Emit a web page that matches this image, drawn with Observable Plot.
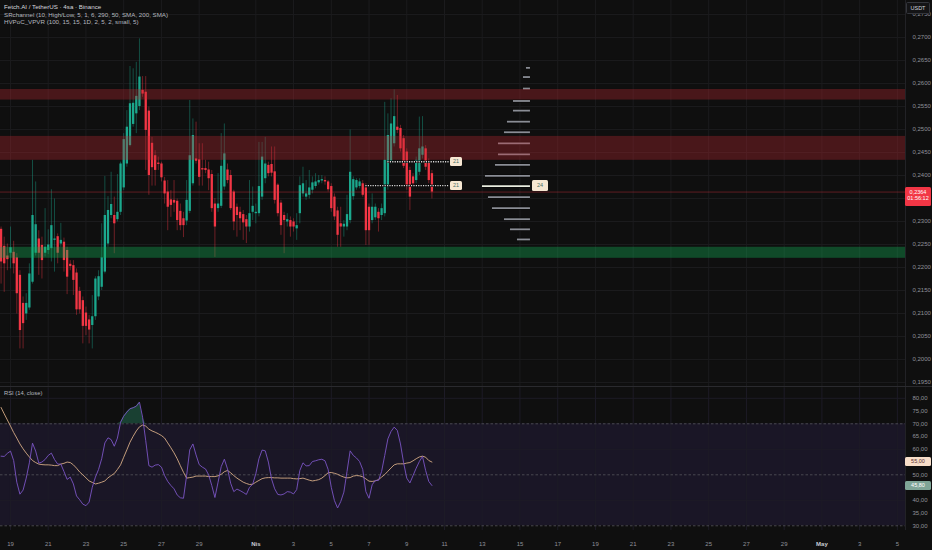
<!DOCTYPE html>
<html><head><meta charset="utf-8">
<script src="https://cdn.jsdelivr.net/npm/d3@7"></script>
<script src="https://cdn.jsdelivr.net/npm/@observablehq/plot@0.6"></script>
<style>
html,body{margin:0;padding:0;background:#0f0f0f;}
#wrap{position:relative;width:932px;height:550px;overflow:hidden;background:#0f0f0f;font-family:"Liberation Sans",Arial,sans-serif;}
#wrap svg{position:absolute;left:0;background:transparent;overflow:visible;}
.t{position:absolute;white-space:nowrap;font-size:6.2px;line-height:7px;}
.box{position:absolute;border-radius:1.5px;font-size:5.5px;line-height:6px;text-align:center;}
</style></head>
<body><div id="wrap"></div>
<script>
// ---------- data ----------
const firstBar = "2019-03-18T12:00Z";
const barHours = 4;
const open  = [.2283,.2246,.2225,.2231,.2233,.2221,.2183,.2122,.2099,.2112,.2168,.2231,.2262,.2248,.2231,.2237,.2241,.2259,.2267,.2251,.2255,.2237,.2207,.2204,.2188,.2148,.2128,.2101,.2086,.2074,.2093,.2136,.2157,.2190,.2251,.2313,.2313,.2304,.2320,.2373,.2425,.2465,.2511,.2534,.2550,.2585,.2581,.2540,.2470,.2443,.2427,.2425,.2388,.2364,.2347,.2346,.2344,.2322,.2306,.2301,.2322,.2382,.2436,.2434,.2415,.2415,.2412,.2402,.2338,.2328,.2333,.2375,.2412,.2400,.2364,.2331,.2320,.2315,.2304,.2288,.2320,.2317,.2317,.2353,.2393,.2422,.2424,.2408,.2379,.2340,.2313,.2299,.2302,.2299,.2284,.2317,.2360,.2353,.2357,.2368,.2376,.2384,.2388,.2389,.2386,.2376,.2353,.2323,.2295,.2288,.2288,.2302,.2354,.2373,.2376,.2382,.2373,.2331,.2302,.2308,.2320,.2313,.2317,.2375,.2431,.2469,.2505,.2502,.2480,.2451,.2411,.2397,.2389,.2407,.2444,.2458,.2429,.2404];
const high  = [.2288,.2266,.2251,.2288,.2257,.2230,.2193,.2136,.2143,.2208,.2433,.2386,.2280,.2266,.2328,.2282,.2369,.2349,.2273,.2296,.2264,.2244,.2215,.2215,.2197,.2157,.2136,.2114,.2096,.2139,.2180,.2193,.2295,.2398,.2354,.2407,.2353,.2402,.2429,.2491,.2541,.2637,.2632,.2646,.2697,.2615,.2615,.2549,.2483,.2454,.2440,.2429,.2396,.2389,.2367,.2389,.2349,.2338,.2320,.2389,.2563,.2523,.2516,.2469,.2469,.2433,.2429,.2411,.2350,.2404,.2491,.2512,.2425,.2411,.2368,.2338,.2331,.2324,.2313,.2389,.2375,.2338,.2472,.2472,.2483,.2429,.2462,.2462,.2382,.2346,.2320,.2317,.2310,.2306,.2317,.2397,.2418,.2389,.2411,.2397,.2404,.2400,.2400,.2397,.2389,.2382,.2360,.2331,.2331,.2302,.2357,.2499,.2397,.2393,.2393,.2389,.2382,.2338,.2360,.2338,.2328,.2338,.2559,.2534,.2567,.2586,.2574,.2509,.2487,.2458,.2418,.2404,.2440,.2527,.2528,.2465,.2436,.2411];
const low   = [.2164,.2146,.2193,.2197,.2186,.2099,.2023,.2023,.2085,.2107,.2164,.2225,.2183,.2175,.2223,.2228,.2212,.2190,.2208,.2244,.2190,.2141,.2193,.2139,.2096,.2099,.2034,.2052,.2034,.2023,.2085,.2128,.2150,.2186,.2244,.2306,.2230,.2299,.2313,.2367,.2418,.2462,.2505,.2491,.2541,.2570,.2411,.2357,.2377,.2377,.2411,.2386,.2338,.2280,.2309,.2320,.2280,.2280,.2265,.2291,.2317,.2377,.2425,.2377,.2377,.2404,.2367,.2320,.2222,.2320,.2328,.2368,.2382,.2324,.2280,.2266,.2280,.2259,.2252,.2277,.2302,.2295,.2310,.2346,.2382,.2397,.2397,.2338,.2310,.2270,.2230,.2288,.2266,.2277,.2259,.2295,.2353,.2346,.2349,.2360,.2371,.2379,.2382,.2379,.2364,.2320,.2302,.2244,.2244,.2266,.2280,.2295,.2346,.2368,.2371,.2353,.2248,.2248,.2295,.2302,.2277,.2302,.2310,.2368,.2425,.2462,.2491,.2451,.2415,.2368,.2324,.2375,.2382,.2400,.2436,.2411,.2382,.2349];
const close = [.2212,.2208,.2217,.2243,.2208,.2143,.2063,.2078,.2122,.2186,.2313,.2293,.2231,.2215,.2244,.2249,.2291,.2262,.2231,.2259,.2215,.2179,.2202,.2172,.2108,.2108,.2072,.2072,.2064,.2093,.2175,.2180,.2221,.2313,.2324,.2337,.2295,.2320,.2425,.2478,.2505,.2556,.2557,.2572,.2614,.2577,.2498,.2400,.2417,.2411,.2424,.2395,.2360,.2331,.2335,.2340,.2302,.2291,.2291,.2346,.2443,.2487,.2431,.2396,.2412,.2411,.2393,.2328,.2288,.2338,.2420,.2447,.2389,.2328,.2299,.2313,.2306,.2297,.2288,.2317,.2333,.2320,.2376,.2440,.2425,.2404,.2405,.2346,.2317,.2291,.2302,.2304,.2288,.2288,.2291,.2378,.2382,.2360,.2373,.2384,.2386,.2389,.2391,.2386,.2369,.2328,.2310,.2270,.2288,.2294,.2315,.2407,.2391,.2389,.2386,.2357,.2280,.2280,.2331,.2331,.2306,.2328,.2433,.2487,.2512,.2528,.2498,.2458,.2420,.2375,.2353,.2382,.2433,.2458,.2462,.2418,.2389,.2364];
const rsi   = [57.3,57.2,58.4,59.3,55.6,47.1,42.4,44.0,48.7,54.7,62.4,59.3,54.6,55.0,56.0,57.6,58.5,56.0,54.2,54.2,51.3,48.2,49.1,46.4,41.7,40.2,38.5,37.9,39.3,45.1,49.1,52.1,56.3,62.5,64.5,63.8,61.2,64.4,70.6,73.0,74.6,75.9,76.3,76.9,78.5,72.6,63.4,53.6,53.0,53.8,54.0,53.0,49.7,47.4,45.8,44.5,42.1,41.0,40.8,49.7,59.8,62.1,57.8,54.0,53.0,52.3,50.0,45.8,41.1,47.1,53.2,56.1,52.3,46.7,43.4,44.4,43.8,43.1,42.3,45.1,46.3,50.4,56.3,59.7,59.4,55.0,48.4,44.5,42.3,42.1,42.5,43.4,43.2,42.5,44.2,51.7,54.7,53.5,53.6,55.2,55.5,55.9,56.1,55.5,52.1,45.1,39.9,37.0,39.5,43.2,51.3,59.4,57.6,56.6,55.2,52.1,43.4,40.8,46.1,47.8,47.8,51.3,57.6,64.1,67.0,68.7,67.4,62.1,54.7,48.7,46.8,49.7,52.6,55.2,57.2,51.7,47.4,45.8];
const rsiMA = [76.4,73.9,71.5,69.1,66.6,64.4,62.1,60.2,58.5,57.0,55.6,54.8,54.2,54.0,53.9,53.9,53.8,53.6,53.6,54.2,54.5,55.0,54.8,53.9,52.6,51.1,50.0,48.8,47.6,47.0,46.4,46.7,47.1,47.6,48.8,49.7,50.5,52.1,53.9,56.9,59.8,62.8,65.1,67.2,68.8,69.5,69.1,67.9,67.2,66.7,66.1,65.4,64.4,62.5,60.6,58.6,56.3,53.6,51.0,48.7,48.9,49.1,49.5,49.5,49.5,49.5,49.3,49.3,49.3,49.6,50.2,51.2,51.7,50.8,49.7,48.7,47.9,47.1,46.6,46.2,46.3,47.1,47.8,48.5,48.8,48.9,48.9,48.8,48.8,48.7,48.7,48.7,48.7,48.5,48.4,48.5,48.7,48.3,47.9,47.6,47.8,48.1,48.7,49.7,50.8,50.9,50.6,50.2,49.6,49.1,48.8,48.9,49.5,49.7,49.6,49.2,48.4,47.5,47.4,47.6,48.1,49.1,50.1,51.4,52.7,53.9,54.3,54.3,54.3,54.6,54.8,55.5,56.3,57.0,57.3,56.9,55.6,55.0];

const priceTicks = [0.195,0.200,0.205,0.210,0.215,0.220,0.225,0.230,0.235,0.240,0.245,0.250,0.255,0.260,0.265,0.270,0.275];
const rsiTicks = [30,35,40,45,50,55,60,65,70,75,80];
const rsiLevels = [30,50,70];
const dateTicks = ["2019-03-19","2019-03-21","2019-03-23","2019-03-25","2019-03-27","2019-03-29","2019-04-01","2019-04-03","2019-04-05","2019-04-07","2019-04-09","2019-04-11","2019-04-13","2019-04-15","2019-04-17","2019-04-19","2019-04-21","2019-04-23","2019-04-25","2019-04-27","2019-04-29","2019-05-01","2019-05-03","2019-05-05"];
const monthNames = {3:"Nis",4:"May"};

// support / resistance zones (SRchannel)
const zoneTop    = [0.2587, 0.2485, 0.2244];
const zoneBottom = [0.2564, 0.2433, 0.2220];
const zoneKind   = ["res", "res", "sup"];

// volume profile (HVPoC_VPVR)
const vpPrice  = [0.2634,0.2614,0.2589,0.2562,0.2541,0.2517,0.2494,0.2470,0.2446,0.2423,0.2399,0.2377,0.2353,0.2329,0.2305,0.2283,0.2261];
const vpVolume = [4,7,7,17,17,23,26,32,32,35,45,48,42,38,26,20,13];
const vpAnchor = "2019-04-15T13:20Z";
const pocLabel = "24";

// developing POC lines
const devPrice = [0.2430, 0.2378];
const devStartBar = [123, 116];
const devEnd = "2019-04-11T06:20Z";
const devLabel = ["21", "21"];

const countdown = "01:56:12";

// ---------- build ----------
const H = 3600e3;
const t0 = new Date(firstBar).getTime();
const candles = close.map((c, i) => ({t: new Date(t0 + i*barHours*H), o: open[i], h: high[i], l: low[i], c, up: c >= open[i], rsi: rsi[i], ma: rsiMA[i]}));
const xDomain = [new Date("2019-03-18T11:17Z"), new Date("2019-05-05T10:20Z")];
const yDomain = [0.1937, 0.27804];
const rDomain = [28.16, 83.84];
const ticks = dateTicks.map(d => new Date(d + "T00:00Z"));
const regTicks = ticks.filter(d => d.getUTCDate() !== 1);
const monTicks = ticks.filter(d => d.getUTCDate() === 1);
const UP = "#1ba88d", DN = "#f23645";
const GRID = "#1b1b1d";
const zones = zoneTop.map((t, i) => ({top: t, bottom: zoneBottom[i], kind: zoneKind[i]}));
const anchorT = new Date(vpAnchor).getTime();
const pxHours = 24/18.87; // one volume unit ~ one pixel of time
const maxVol = Math.max(...vpVolume);
const vp = vpPrice.map((p, i) => ({p, v: vpVolume[i], poc: vpVolume[i] === maxVol}));
const devs = devPrice.map((p, i) => ({p, t1: candles[devStartBar[i]].t, t2: new Date(devEnd), label: devLabel[i]}));
const fmtP = d => d.toFixed(4).replace(".", ",");
const fmtR = d => d.toFixed(2).replace(".", ",");
const FONT = "Liberation Sans, Arial, sans-serif";
const last = close[close.length-1];
const lastMA = rsiMA[rsiMA.length-1], lastR = rsi[rsi.length-1];

// hide axis labels that sit under the value boxes (as in the platform)
const pxPerPrice = 388 / (yDomain[1] - yDomain[0]);
const visPriceTicks = priceTicks.filter(p => { const dy = (last - p) * pxPerPrice; return dy < -6 || dy > 17; });
const pxPerRsi = 142 / (rDomain[1] - rDomain[0]);
const visRsiTicks = rsiTicks.filter(v => Math.abs(v - lastMA) * pxPerRsi > 7 && Math.abs(v - lastR) * pxPerRsi > 7);

const main = Plot.plot({
  width: 932, height: 388,
  marginLeft: 0, marginRight: 27, marginTop: 0, marginBottom: 0,
  style: {background: "transparent", fontFamily: FONT},
  x: {type: "utc", domain: xDomain, axis: null},
  y: {domain: yDomain, axis: null},
  marks: [
    Plot.ruleX(ticks, {stroke: GRID, strokeWidth: 1}),
    Plot.ruleY(priceTicks, {stroke: GRID, strokeWidth: 1}),
    Plot.ruleY(vp, {y: "p", x1: d => new Date(anchorT - d.v*pxHours*H), x2: () => new Date(anchorT), stroke: "#0a0a0a", strokeWidth: 3.2}),
    Plot.ruleY(vp, {y: "p", x1: d => new Date(anchorT - d.v*pxHours*H), x2: () => new Date(anchorT), stroke: d => d.poc ? "#e9ecdf" : "#8a8d95", strokeWidth: 1.8}),
    Plot.ruleX(candles, {x: "t", y1: "l", y2: "h", stroke: d => d.up ? UP : DN, strokeOpacity: 0.42, strokeWidth: 1}),
    Plot.ruleX(candles, {x: "t", y1: "o", y2: "c", stroke: d => d.up ? UP : DN, strokeWidth: 2.3}),
    Plot.rect(zones, {x1: () => xDomain[0], x2: () => xDomain[1], y1: "bottom", y2: "top", fill: d => d.kind === "sup" ? "#14b45a" : "#be2830", fillOpacity: d => d.kind === "sup" ? 0.36 : 0.33}),
    Plot.ruleY([last], {stroke: DN, strokeOpacity: 0.35, strokeWidth: 1}),
    Plot.ruleY(devs, {y: "p", x1: "t1", x2: "t2", stroke: "#0a0a0a", strokeWidth: 2.4}),
    Plot.ruleY(devs, {y: "p", x1: "t1", x2: "t2", stroke: "#d9d9d9", strokeWidth: 1.4, strokeDasharray: "1.2,1.2"}),
    Plot.ruleX([xDomain[1]], {stroke: "#222226"}),
    Plot.axisY({anchor: "right", ticks: visPriceTicks, tickSize: 0, tickPadding: 7, tickFormat: fmtP, fill: "#8f929a", fontSize: 6, label: null})
  ]
});
main.style.top = "0px";

const rsiPlot = Plot.plot({
  width: 932, height: 162,
  marginLeft: 0, marginRight: 27, marginTop: 0, marginBottom: 20,
  style: {background: "transparent", fontFamily: FONT},
  x: {type: "utc", domain: xDomain, axis: null},
  y: {domain: rDomain, axis: null},
  marks: [
    Plot.rect([rsiLevels], {x1: () => xDomain[0], x2: () => xDomain[1], y1: d => d[0], y2: d => d[2], fill: "#1a1626"}),
    Plot.ruleX(ticks, {stroke: "#1d1b26", strokeWidth: 1}),
    Plot.ruleY(rsiTicks.filter(v => v % 10 === 0 && !rsiLevels.includes(v)), {stroke: "#1d1b26"}),
    Plot.ruleY(rsiLevels, {stroke: "#55545c", strokeDasharray: "2.5,2", strokeWidth: 0.8}),
    Plot.areaY(candles, {x: "t", y1: () => rsiLevels[2], y2: d => Math.max(d.rsi, rsiLevels[2]), fill: "#1b4636", fillOpacity: 0.9}),
    Plot.line(candles, {x: "t", y: "ma", stroke: "#d6ac86", strokeWidth: 0.9}),
    Plot.line(candles, {x: "t", y: "rsi", stroke: "#7a55c4", strokeWidth: 0.9}),
    Plot.ruleX([xDomain[1]], {stroke: "#222226", y1: rDomain[0], y2: rDomain[1]}),
    Plot.axisY({anchor: "right", ticks: visRsiTicks, tickSize: 0, tickPadding: 7, tickFormat: fmtR, fill: "#8f929a", fontSize: 6, label: null}),
    Plot.axisX({ticks: regTicks, tickSize: 0, tickPadding: 11, tickFormat: d => String(d.getUTCDate()), fill: "#8f929a", fontSize: 6, label: null}),
    Plot.axisX({ticks: monTicks, tickSize: 0, tickPadding: 11, tickFormat: d => monthNames[d.getUTCMonth()], fill: "#c9ccd4", fontSize: 6, fontWeight: "bold", label: null})
  ]
});
rsiPlot.style.top = "388px";

const wrap = document.getElementById("wrap");
wrap.appendChild(main);
wrap.appendChild(rsiPlot);

// separator between panes
const sep = document.createElement("div");
sep.style.cssText = "position:absolute;left:0;top:386px;width:932px;height:1px;background:#2a2a2e;";
wrap.appendChild(sep);

function addText(txt, css, cls = "t") {
  const d = document.createElement("div");
  d.className = cls; d.textContent = txt; d.style.cssText += css;
  wrap.appendChild(d); return d;
}
// header
addText("Fetch.AI / TetherUS · 4sa · Binance", "left:4px;top:3px;color:#d7d9de;");
addText("SRchannel (10, High/Low, 5, 1, 6, 290, 50, SMA, 200, SMA)", "left:4px;top:10.5px;color:#b4b7bf;");
addText("HVPoC_VPVR (100, 15, 15, 1D, 2, 5, 2, small, 5)", "left:4px;top:18px;color:#b4b7bf;");
addText("RSI (14, close)", "left:4px;top:389.5px;color:#b4b7bf;font-size:5.8px;");
// USDT box
addText("USDT", "left:906px;top:2px;width:22px;height:10px;line-height:10px;border:1px solid #34363c;background:#141416;color:#d1d4dc;font-size:5.5px;", "box");

const xs = main.scale("x"), ys = main.scale("y");
// last price box
const pb = addText("", `left:905px;top:${ys.apply(last)-4.5}px;width:26px;height:19px;background:${DN};color:#fff;padding-top:1.5px;box-sizing:border-box;`, "box");
pb.innerHTML = fmtP(last) + "<br>" + countdown;
// dev labels
devs.forEach(d => {
  addText(d.label, `left:${xs.apply(d.t2)+1}px;top:${ys.apply(d.p)-4.5}px;width:12px;height:9px;line-height:9px;background:#f6e7d2;color:#4a6f66;`, "box");
});
// POC label
const poc = vp.find(d => d.poc);
addText(pocLabel, `left:${xs.apply(new Date(anchorT))+2}px;top:${ys.apply(poc.p)-5.5}px;width:16px;height:11px;line-height:11px;background:#f6e7d2;color:#4a6f66;`, "box");

// RSI value labels
const rys = rsiPlot.scale("y");
addText(fmtR(lastMA), `left:905px;top:${388 + rys.apply(lastMA)-4.5}px;width:26px;height:9px;line-height:9px;background:#f7ddc8;color:#5a3030;`, "box");
addText(fmtR(lastR), `left:905px;top:${388 + rys.apply(lastR)-4.5}px;width:26px;height:9px;line-height:9px;background:#7fa597;color:#fff;`, "box");
</script>
</body></html>
